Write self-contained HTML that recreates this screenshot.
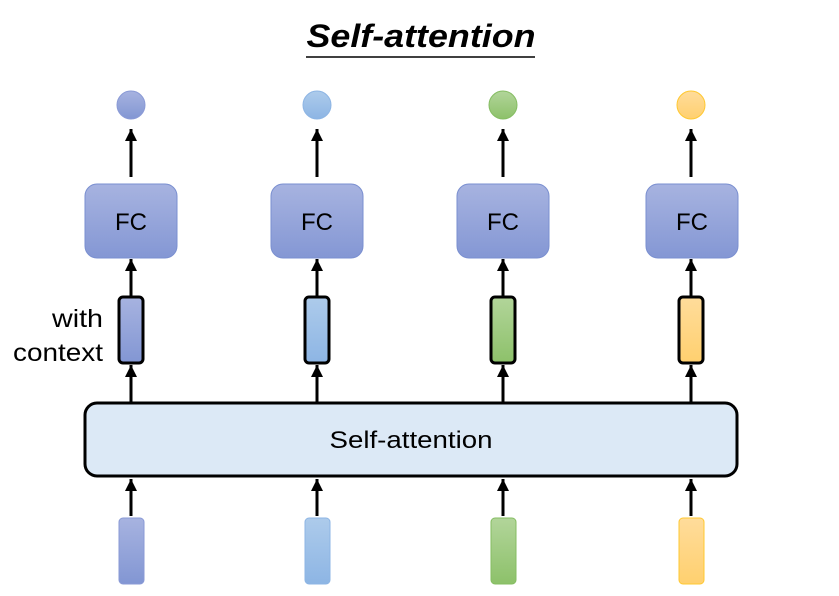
<!DOCTYPE html>
<html><head><meta charset="utf-8"><style>html,body{margin:0;padding:0;background:#fff}svg{display:block}</style></head>
<body>
<svg width="839" height="596" viewBox="0 0 839 596" xmlns="http://www.w3.org/2000/svg" font-family="'Liberation Sans', 'DejaVu Sans', sans-serif">
<defs>
<linearGradient id="b1" x1="0" y1="0" x2="0" y2="1"><stop offset="0" stop-color="#a7b3e0"/><stop offset="1" stop-color="#8296d3"/></linearGradient>
<linearGradient id="b2" x1="0" y1="0" x2="0" y2="1"><stop offset="0" stop-color="#adcbeb"/><stop offset="1" stop-color="#8db5e4"/></linearGradient>
<linearGradient id="g" x1="0" y1="0" x2="0" y2="1"><stop offset="0" stop-color="#b2d59a"/><stop offset="1" stop-color="#8dc16a"/></linearGradient>
<linearGradient id="y" x1="0" y1="0" x2="0" y2="1"><stop offset="0" stop-color="#ffdc9b"/><stop offset="1" stop-color="#ffd06f"/></linearGradient>
<linearGradient id="fc" x1="0" y1="0" x2="0" y2="1"><stop offset="0" stop-color="#a7b3e0"/><stop offset="1" stop-color="#8497d4"/></linearGradient>
<marker id="ah" markerWidth="13" markerHeight="12" refX="10" refY="5" orient="auto" markerUnits="userSpaceOnUse" viewBox="0 0 10 10"><path d="M0,0 L10,5 L0,10 z" fill="#000"/></marker>
</defs>
<text x="421" y="47" font-size="32" font-weight="bold" font-style="italic" text-anchor="middle" textLength="229" lengthAdjust="spacingAndGlyphs">Self-attention</text>
<line x1="306" y1="57" x2="535" y2="57" stroke="#000" stroke-width="1.5"/>

<g stroke="#000" stroke-width="3" marker-end="url(#ah)">
<line x1="131" y1="177" x2="131" y2="129"/><line x1="317" y1="177" x2="317" y2="129"/><line x1="503" y1="177" x2="503" y2="129"/><line x1="691" y1="177" x2="691" y2="129"/>
<line x1="131" y1="297" x2="131" y2="259"/><line x1="317" y1="297" x2="317" y2="259"/><line x1="503" y1="297" x2="503" y2="259"/><line x1="691" y1="297" x2="691" y2="259"/>
<line x1="131" y1="402" x2="131" y2="365"/><line x1="317" y1="402" x2="317" y2="365"/><line x1="503" y1="402" x2="503" y2="365"/><line x1="691" y1="402" x2="691" y2="365"/>
<line x1="131" y1="516" x2="131" y2="479"/><line x1="317" y1="516" x2="317" y2="479"/><line x1="503" y1="516" x2="503" y2="479"/><line x1="691" y1="516" x2="691" y2="479"/>
</g>

<circle cx="131" cy="105" r="14" fill="url(#b1)" stroke="#8a9ad6" stroke-width="1"/>
<circle cx="317" cy="105" r="14" fill="url(#b2)" stroke="#8db5e4" stroke-width="1"/>
<circle cx="503" cy="105" r="14" fill="url(#g)" stroke="#85bd62" stroke-width="1"/>
<circle cx="691" cy="105" r="14" fill="url(#y)" stroke="#ffc830" stroke-width="1"/>

<g fill="url(#fc)" stroke="#7a8fd0" stroke-width="1">
<rect x="85" y="184" width="92" height="74" rx="12"/><rect x="271" y="184" width="92" height="74" rx="12"/><rect x="457" y="184" width="92" height="74" rx="12"/><rect x="646" y="184" width="92" height="74" rx="12"/>
</g>
<g font-size="24" text-anchor="middle" fill="#000">
<text x="131" y="230">FC</text><text x="317" y="230">FC</text><text x="503" y="230">FC</text><text x="692" y="230">FC</text>
</g>

<g stroke="#000" stroke-width="3">
<rect x="119" y="297" width="24" height="66" rx="4" fill="url(#b1)"/>
<rect x="305" y="297" width="24" height="66" rx="4" fill="url(#b2)"/>
<rect x="491" y="297" width="24" height="66" rx="4" fill="url(#g)"/>
<rect x="679" y="297" width="24" height="66" rx="4" fill="url(#y)"/>
</g>
<text x="52" y="327" font-size="25" textLength="51" lengthAdjust="spacingAndGlyphs">with</text>
<text x="13" y="361" font-size="25" textLength="90" lengthAdjust="spacingAndGlyphs">context</text>

<rect x="85" y="403" width="652" height="73" rx="12" fill="#dce9f6" stroke="#000" stroke-width="3"/>
<text x="411" y="448" font-size="24" text-anchor="middle" textLength="163" lengthAdjust="spacingAndGlyphs">Self-attention</text>

<rect x="119" y="518" width="25" height="66" rx="4" fill="url(#b1)" stroke="#8a9ad6"/>
<rect x="305" y="518" width="25" height="66" rx="4" fill="url(#b2)" stroke="#8db5e4"/>
<rect x="491" y="518" width="25" height="66" rx="4" fill="url(#g)" stroke="#85bd62"/>
<rect x="679" y="518" width="25" height="66" rx="4" fill="url(#y)" stroke="#ffc830"/>
</svg>
</body></html>
